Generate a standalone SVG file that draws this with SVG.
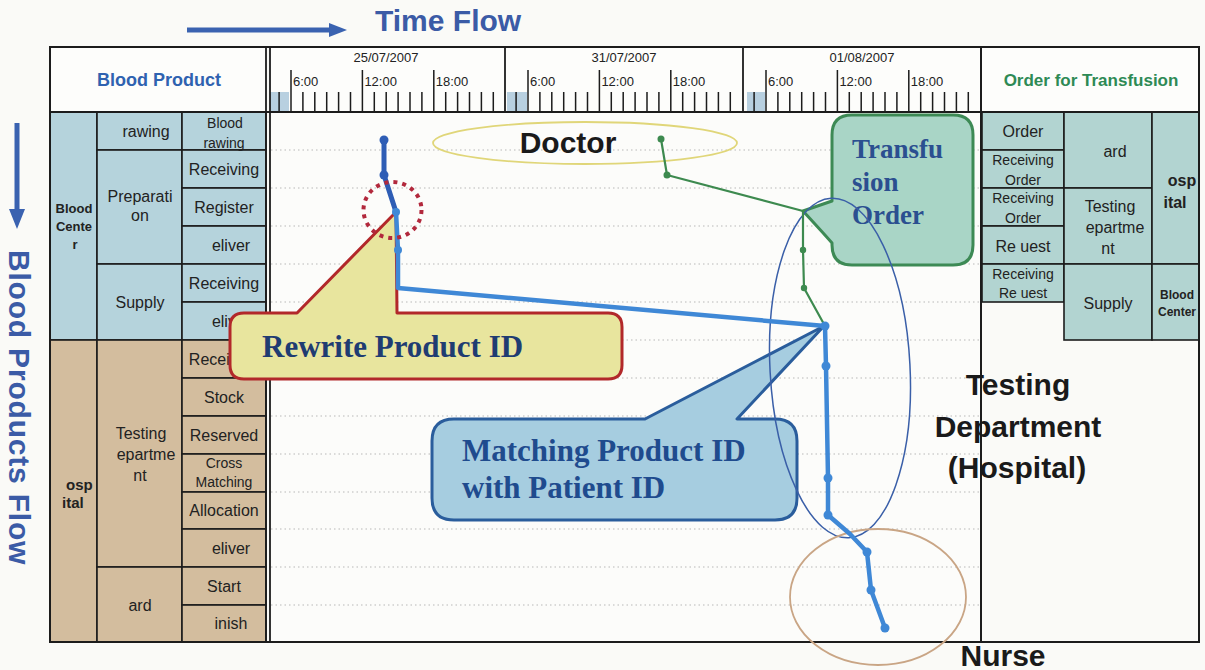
<svg xmlns="http://www.w3.org/2000/svg" width="1205" height="670" viewBox="0 0 1205 670">
<defs>
<style>
.tx{font-family:"Liberation Sans",Arial,sans-serif;fill:#222;text-anchor:middle}
.s16{font-size:16px}
.s14{font-size:14px}
.s13{font-size:13px}
.b{font-weight:bold}
.cb{fill:#b5d3dc;stroke:#1c1c1c;stroke-width:1.6}
.ct{fill:#d3bd9e;stroke:#1c1c1c;stroke-width:1.6}
.cr{fill:#b2d4d1;stroke:#1c1c1c;stroke-width:1.6}
.grid{stroke:#b8b8b8;stroke-width:1.2;stroke-dasharray:1.5 3;fill:none}
.tick{stroke:#1c1c1c;stroke-width:1.5;fill:none}
.frame{fill:none;stroke:#1c1c1c;stroke-width:2}
.big{font-family:"Liberation Sans",Arial,sans-serif;font-weight:bold;font-size:30px;fill:#1a1a1a;text-anchor:middle}
.serif{font-family:"Liberation Serif","Times New Roman",serif;font-weight:bold}
.flow{font-family:"Liberation Sans",Arial,sans-serif;font-weight:bold;font-size:30px;fill:#3b5ba6}
.bdot{fill:#3f88d6}
.gdot{fill:#3d8a4f}
</style>
</defs>
<rect x="0" y="0" width="1205" height="670" fill="#fafaf7"/>

<g id="flow-arrows">
<line x1="187" y1="30" x2="331" y2="30" stroke="#3a62b0" stroke-width="5"/>
<polygon points="329,23 329,37 347,30" fill="#3a62b0"/>
<text class="flow" x="375" y="31">Time Flow</text>
<line x1="17" y1="123" x2="17" y2="211" stroke="#3a62b0" stroke-width="5"/>
<polygon points="9,209 25,209 17,229" fill="#3a62b0"/>
<text class="flow" transform="translate(9,250) rotate(90)" letter-spacing="0.8">Blood Products Flow</text>
</g>

<g id="chart-grid">
<rect x="270" y="112" width="711" height="530" fill="#fcfcfa"/>
<path class="grid" d="M271 150H980M271 188H980M271 226H980M271 264H980M271 302H980M271 340H980M271 378H980M271 416H980M271 454H980M271 492H980M271 529H980M271 567H980M271 605H980"/>
</g>

<g id="time-axis">
<rect x="270" y="47" width="711" height="65" fill="#fdfdfb"/>
<rect x="270" y="92" width="19" height="19" fill="#b8d0e0"/>
<rect x="507" y="92" width="20" height="19" fill="#b8d0e0"/>
<rect x="747" y="92" width="18" height="19" fill="#b8d0e0"/>
<path class="tick" d="M279.1 92v19M302.9 92v19M314.8 92v19M326.7 92v19M338.6 92v19M350.5 92v19M374.3 92v19M386.2 92v19M398.1 92v19M410 92v19M421.9 92v19M445.7 92v19M457.6 92v19M469.5 92v19M481.4 92v19M493.3 92v19
M516.1 92v19M539.9 92v19M551.8 92v19M563.7 92v19M575.6 92v19M587.5 92v19M611.3 92v19M623.2 92v19M635.1 92v19M647 92v19M658.9 92v19M682.7 92v19M694.6 92v19M706.5 92v19M718.4 92v19M730.3 92v19
M754.1 92v19M777.9 92v19M789.8 92v19M801.7 92v19M813.6 92v19M825.5 92v19M849.3 92v19M861.2 92v19M873.1 92v19M885 92v19M896.9 92v19M920.7 92v19M932.6 92v19M944.5 92v19M956.4 92v19M968.3 92v19
M291 70v41M362.4 70v41M433.8 70v41M528 70v41M599.4 70v41M670.8 70v41M766 70v41M837.4 70v41M908.8 70v41"/>
<line x1="505" y1="47" x2="505" y2="112" stroke="#1c1c1c" stroke-width="1.8"/>
<line x1="743" y1="47" x2="743" y2="112" stroke="#1c1c1c" stroke-width="1.8"/>
<g class="tx s13">
<text x="386" y="62">25/07/2007</text>
<text x="624" y="62">31/07/2007</text>
<text x="862" y="62">01/08/2007</text>
</g>
<g class="tx s13" style="text-anchor:start">
<text x="293" y="86">6:00</text><text x="364.4" y="86">12:00</text><text x="435.8" y="86">18:00</text>
<text x="530" y="86">6:00</text><text x="601.4" y="86">12:00</text><text x="672.8" y="86">18:00</text>
<text x="768" y="86">6:00</text><text x="839.4" y="86">12:00</text><text x="910.8" y="86">18:00</text>
</g>
</g>

<g id="header-left">
<rect x="50" y="47" width="216" height="65" fill="#fdfdfb"/>
<text class="tx b" x="159" y="86" style="font-size:18px;fill:#2f62b0">Blood Product</text>
</g>
<g id="header-right">
<rect x="981" y="47" width="218" height="65" fill="#fdfdfb"/>
<text class="tx b" x="1091" y="86" style="font-size:17px;fill:#2e8a55">Order for Transfusion</text>
</g>

<g id="left-table">
<g id="col1">
<rect class="cb" x="50" y="112" width="47" height="228"/>
<rect class="ct" x="50" y="340" width="47" height="302"/>
<g class="tx b" style="font-size:13px">
<text x="74" y="213">Blood</text><text x="74" y="231">Cente</text><text x="75" y="249">r</text>
</g>
<g class="tx b" style="font-size:15px;text-anchor:start">
<text x="66" y="490">osp</text><text x="62" y="508">ital</text>
</g>
</g>
<g id="col2">
<rect class="cb" x="97" y="112" width="85" height="38"/>
<rect class="cb" x="97" y="150" width="85" height="114"/>
<rect class="cb" x="97" y="264" width="85" height="76"/>
<rect class="ct" x="97" y="340" width="85" height="227"/>
<rect class="ct" x="97" y="567" width="85" height="75"/>
<g class="tx s16">
<text x="146" y="137">rawing</text>
<text x="140" y="202">Preparati</text><text x="140" y="221">on</text>
<text x="140" y="308">Supply</text>
<text x="141" y="439">Testing</text><text x="146" y="460">epartme</text><text x="140" y="481">nt</text>
<text x="140" y="611">ard</text>
</g>
</g>
<g id="col3">
<rect class="cb" x="182" y="112" width="84" height="38"/>
<rect class="cb" x="182" y="150" width="84" height="38"/>
<rect class="cb" x="182" y="188" width="84" height="38"/>
<rect class="cb" x="182" y="226" width="84" height="38"/>
<rect class="cb" x="182" y="264" width="84" height="38"/>
<rect class="cb" x="182" y="302" width="84" height="38"/>
<rect class="ct" x="182" y="340" width="84" height="38"/>
<rect class="ct" x="182" y="378" width="84" height="38"/>
<rect class="ct" x="182" y="416" width="84" height="38"/>
<rect class="ct" x="182" y="454" width="84" height="38"/>
<rect class="ct" x="182" y="492" width="84" height="37"/>
<rect class="ct" x="182" y="529" width="84" height="38"/>
<rect class="ct" x="182" y="567" width="84" height="38"/>
<rect class="ct" x="182" y="605" width="84" height="37"/>
<g class="tx s14">
<text x="225" y="128">Blood</text><text x="224" y="148">rawing</text>
<text x="224" y="468">Cross</text><text x="224" y="487">Matching</text>
</g>
<g class="tx s16">
<text x="224" y="175">Receiving</text>
<text x="224" y="213">Register</text>
<text x="231" y="251">eliver</text>
<text x="224" y="289">Receiving</text>
<text x="231" y="327">eliver</text>
<text x="224" y="365">Receiving</text>
<text x="224" y="403">Stock</text>
<text x="224" y="441">Reserved</text>
<text x="224" y="516">Allocation</text>
<text x="231" y="554">eliver</text>
<text x="224" y="592">Start</text>
<text x="231" y="629">inish</text>
</g>
</g>
</g>

<g id="right-table">
<rect class="cr" x="982" y="112" width="82" height="38"/>
<rect class="cr" x="982" y="150" width="82" height="38"/>
<rect class="cr" x="982" y="188" width="82" height="38"/>
<rect class="cr" x="982" y="226" width="82" height="38"/>
<rect class="cr" x="982" y="264" width="82" height="38"/>
<rect class="cr" x="1064" y="112" width="88" height="76"/>
<rect class="cr" x="1064" y="188" width="88" height="76"/>
<rect class="cr" x="1064" y="264" width="88" height="76"/>
<rect class="cr" x="1152" y="112" width="47" height="152"/>
<rect class="cr" x="1152" y="264" width="47" height="76"/>
<g class="tx s16">
<text x="1023" y="137">Order</text>
<text x="1023" y="252">Re uest</text>
<text x="1115" y="157">ard</text>
<text x="1110" y="212">Testing</text><text x="1115" y="233">epartme</text><text x="1108" y="254">nt</text>
<text x="1108" y="309">Supply</text>
</g>
<g class="tx s14">
<text x="1023" y="165">Receiving</text><text x="1023" y="185">Order</text>
<text x="1023" y="203">Receiving</text><text x="1023" y="223">Order</text>
<text x="1023" y="279">Receiving</text><text x="1023" y="298">Re uest</text>
</g>
<g class="tx b" style="font-size:16px">
<text x="1182" y="186">osp</text><text x="1175" y="208">ital</text>
</g>
<g class="tx b" style="font-size:12px">
<text x="1177" y="299">Blood</text><text x="1177" y="316">Center</text>
</g>
</g>

<g id="table-frame">
<rect class="frame" x="50" y="47" width="1149" height="595"/>
<line x1="50" y1="112" x2="1199" y2="112" stroke="#1c1c1c" stroke-width="2"/>
<line x1="266" y1="47" x2="266" y2="642" stroke="#1c1c1c" stroke-width="1.8"/>
<line x1="270" y1="47" x2="270" y2="642" stroke="#1c1c1c" stroke-width="1.8"/>
<line x1="981" y1="47" x2="981" y2="642" stroke="#1c1c1c" stroke-width="2"/>
</g>

<g id="callout-rewrite">
<path d="M244 313 L297 313 L396 212 L397 313 L608 313 Q622 313 622 327 L622 365 Q622 379 608 379 L244 379 Q230 379 230 365 L230 327 Q230 313 244 313 Z" fill="#e8e59e" stroke="#b2282a" stroke-width="3" stroke-linejoin="round"/>
<text class="serif" x="262" y="357" style="font-size:31px;fill:#1f3c72">Rewrite Product ID</text>
</g>

<g id="callout-matching">
<path d="M454 419 L645 419 L824 326 L737 419 L775 419 Q797 419 797 441 L797 498 Q797 520 775 520 L454 520 Q432 520 432 498 L432 441 Q432 419 454 419 Z" fill="#a6cde0" stroke="#2a5d9c" stroke-width="3" stroke-linejoin="round"/>
<text class="serif" x="462" y="461" style="font-size:31px;fill:#1f4b8e">Matching Product ID</text>
<text class="serif" x="462" y="498" style="font-size:31px;fill:#1f4b8e">with Patient ID</text>
</g>

<g id="callout-transfusion">
<path d="M852 115 L953 115 Q973 115 973 135 L973 245 Q973 265 953 265 L852 265 Q832 265 832 245 L832 243 Q826 236 803 211 L832 201 L832 135 Q832 115 852 115 Z" fill="#a9d5c6" stroke="#3d8a55" stroke-width="3" stroke-linejoin="round"/>
<text class="serif" x="852" y="158" style="font-size:27px;fill:#2b4f90">Transfu</text>
<text class="serif" x="852" y="191" style="font-size:27px;fill:#2b4f90">sion</text>
<text class="serif" x="852" y="224" style="font-size:27px;fill:#2b4f90">Order</text>
</g>

<g id="doctor">
<ellipse cx="585" cy="143" rx="152" ry="21" fill="none" stroke="#e0d679" stroke-width="1.8"/>
<text class="big" x="568" y="153">Doctor</text>
</g>

<g id="testing-dept">
<ellipse cx="840" cy="368" rx="70" ry="170" transform="rotate(-3 840 368)" fill="none" stroke="#3a5fa8" stroke-width="1.5"/>
<text class="big" x="1018" y="395">Testing</text>
<text class="big" x="1018" y="437">Department</text>
<text class="big" x="1017" y="478">(Hospital)</text>
</g>

<g id="nurse">
<ellipse cx="878" cy="597" rx="88" ry="68" fill="none" stroke="#c9a585" stroke-width="1.8"/>
<text class="big" x="1003" y="666">Nurse</text>
</g>

<g id="connectors">
<polyline points="661,139 667,175 803,211 803,250 804,288 825,326" fill="none" stroke="#3d8a4f" stroke-width="2.2" stroke-linejoin="round"/>
<polyline points="384,140 384,175 396,212" fill="none" stroke="#2e5db5" stroke-width="5" stroke-linejoin="round" stroke-linecap="round"/>
<polyline points="396,212 398,250 398,288 825,326 826,366 828,478 828,515 850,534 867,552 871,590 885,628" fill="none" stroke="#3f88d6" stroke-width="4.5" stroke-linejoin="round" stroke-linecap="round"/>
<circle class="gdot" cx="661" cy="139" r="3.5"/>
<circle class="gdot" cx="667" cy="175" r="3.5"/>
<circle class="gdot" cx="803" cy="250" r="3.2"/>
<circle class="gdot" cx="804" cy="288" r="3.2"/>
<circle cx="384" cy="140" r="4.5" fill="#2e5db5"/>
<circle cx="384" cy="175" r="4.5" fill="#2e5db5"/>
<circle class="bdot" cx="396" cy="212" r="4"/>
<circle class="bdot" cx="398" cy="250" r="4"/>
<circle class="bdot" cx="825" cy="326" r="4.5"/>
<circle class="bdot" cx="826" cy="366" r="4.5"/>
<circle class="bdot" cx="828" cy="478" r="4.5"/>
<circle class="bdot" cx="828" cy="515" r="4.5"/>
<circle class="bdot" cx="867" cy="552" r="4.5"/>
<circle class="bdot" cx="871" cy="590" r="4.5"/>
<circle class="bdot" cx="885" cy="628" r="4.5"/>
</g>

<g id="highlight-circle">
<ellipse cx="392.5" cy="210" rx="29" ry="28" fill="none" stroke="#b2283c" stroke-width="4" stroke-dasharray="4 5"/>
</g>
</svg>
